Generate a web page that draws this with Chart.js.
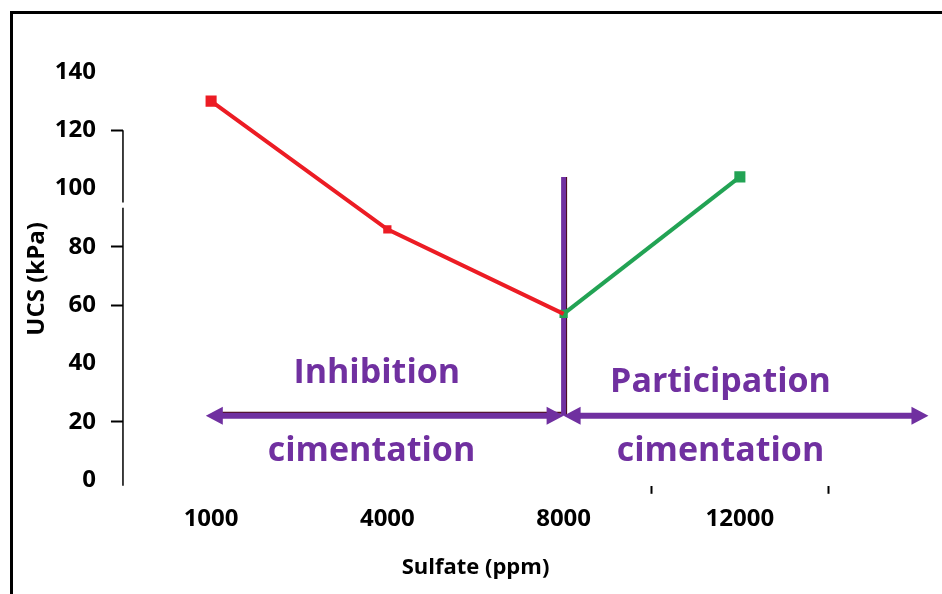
<!DOCTYPE html>
<html>
<head>
<meta charset="utf-8">
<script src="https://cdn.jsdelivr.net/npm/chart.js@4.4.1/dist/chart.umd.min.js"></script>
<style>
    html, body { margin: 0; padding: 0; background: #fff; }
    #frame {
        position: absolute; left: 10px; top: 11px; width: 932px; height: 583px;
        border-top: 3px solid #000; border-left: 3px solid #000;
    }
    #wrap { position: absolute; left: 0; top: 0; width: 929px; height: 580px; }
</style>
</head>
<body>
<div id="frame"><div id="wrap"><canvas id="ucsChart"></canvas></div></div>
<script>
// Data
const sulfateLevels = ["1000", "4000", "8000", "12000"];
const inhibitionUcs = [130, 86, 57, null];
const participationUcs = [null, null, 57, 104];
const ucsTicks = [0, 20, 40, 60, 80, 100, 120, 140];
const markedTicks = [20, 60, 80, 120];
const zoneLabels = ["Inhibition", "cimentation", "Participation", "cimentation"];

const purple = "#7030a0";
const red = "#ec1c24";
const green = "#22a354";
const boldFont = (size) => ({ family: "'Open Sans', sans-serif", size: size, weight: "bold" });

// Zone annotation: split line, double arrows and texts
const zones = {
    id: "zones",
    beforeDatasetsDraw(chart) {
        const { ctx, chartArea, scales: { x, y } } = chart;

        // y axis line (starts at 120, small break near 95)
        ctx.save();
        ctx.strokeStyle = "#000";
        ctx.lineWidth = 1.5;
        ctx.beginPath();
        ctx.moveTo(chartArea.left, y.getPixelForValue(120));
        ctx.lineTo(chartArea.left, y.getPixelForValue(95.2));
        ctx.moveTo(chartArea.left, y.getPixelForValue(93.4));
        ctx.lineTo(chartArea.left, chartArea.bottom);
        ctx.stroke();

        const split = x.getPixelForValue(2);
        const arrowY = y.getPixelForValue(22);
        const leftTip = x.getPixelForValue(-0.03);
        const rightTip = x.getPixelForValue(4.07);

        // dark shadow lines
        ctx.strokeStyle = "#4a0a12";
        ctx.lineWidth = 2;
        ctx.beginPath();
        ctx.moveTo(leftTip + 16, arrowY - 3);
        ctx.lineTo(split, arrowY - 3);
        ctx.moveTo(split + 2.5, y.getPixelForValue(104));
        ctx.lineTo(split + 2.5, arrowY);
        ctx.stroke();

        // vertical split line
        ctx.strokeStyle = purple;
        ctx.lineWidth = 5;
        ctx.beginPath();
        ctx.moveTo(split, y.getPixelForValue(104));
        ctx.lineTo(split, arrowY);
        ctx.stroke();

        drawArrow(ctx, leftTip, split, arrowY);
        drawArrow(ctx, split, rightTip, arrowY);
        ctx.restore();
    },
    afterDatasetsDraw(chart) {
        const { ctx, scales: { x, y } } = chart;
        const spots = [[0.94, 36.5], [0.91, 9.8], [2.89, 33.5], [2.89, 9.8]];
        ctx.save();
        ctx.font = "bold 34px 'Open Sans', sans-serif";
        ctx.fillStyle = purple;
        ctx.textAlign = "center";
        ctx.textBaseline = "middle";
        zoneLabels.forEach((label, i) => {
            ctx.fillText(label, x.getPixelForValue(spots[i][0]), y.getPixelForValue(spots[i][1]));
        });
        ctx.restore();
    },
};

function drawArrow(ctx, x1, x2, yPos) {
    const head = 17;
    const half = 9;
    ctx.strokeStyle = purple;
    ctx.fillStyle = purple;
    ctx.lineWidth = 6;
    ctx.beginPath();
    ctx.moveTo(x1 + head - 2, yPos);
    ctx.lineTo(x2 - head + 2, yPos);
    ctx.stroke();
    ctx.beginPath();
    ctx.moveTo(x1, yPos);
    ctx.lineTo(x1 + head, yPos - half);
    ctx.lineTo(x1 + head, yPos + half);
    ctx.closePath();
    ctx.moveTo(x2, yPos);
    ctx.lineTo(x2 - head, yPos - half);
    ctx.lineTo(x2 - head, yPos + half);
    ctx.closePath();
    ctx.fill();
}

const config = {
    type: "line",
    data: {
        labels: sulfateLevels,
        datasets: [
            {
                data: inhibitionUcs,
                borderColor: red,
                backgroundColor: red,
                borderWidth: 4,
                pointStyle: "rect",
                pointRadius: [5, 3, 0, 0],
            },
            {
                data: participationUcs,
                borderColor: green,
                backgroundColor: green,
                borderWidth: 4,
                pointStyle: "rect",
                pointRadius: [0, 0, 3, 5],
            },
        ],
    },
    options: {
        responsive: true,
        maintainAspectRatio: false,
        animation: false,
        events: [],
        layout: { padding: { left: 10, right: 114, top: 58, bottom: 9 } },
        plugins: { legend: { display: false }, tooltip: { enabled: false } },
        scales: {
            x: {
                offset: true,
                border: { display: false },
                grid: {
                    offset: true,
                    drawOnChartArea: false,
                    tickLength: 8,
                    tickWidth: 2,
                    tickColor: (c) => (c.index === undefined || c.index >= 3 ? "#000" : "rgba(0,0,0,0)"),
                },
                ticks: { padding: 11, color: "#000", font: boldFont(24) },
                title: {
                    display: true,
                    text: "Sulfate (ppm)",
                    color: "#000",
                    font: boldFont(22),
                    padding: { top: 10, bottom: 4 },
                },
            },
            y: {
                min: -2,
                max: 140,
                afterBuildTicks: (scale) => {
                    scale.ticks = ucsTicks.map((v) => ({ value: v }));
                },
                border: { display: false },
                grid: {
                    drawOnChartArea: false,
                    tickLength: 12,
                    tickWidth: 2,
                    tickColor: (c) => (c.tick && markedTicks.includes(c.tick.value) ? "#000" : "rgba(0,0,0,0)"),
                },
                ticks: { padding: 15, color: "#000", font: boldFont(24) },
                title: {
                    display: true,
                    text: "UCS (kPa)",
                    color: "#000",
                    font: boldFont(24),
                    padding: { top: 0, bottom: -12 },
                },
            },
        },
    },
    plugins: [zones],
};

new Chart(document.getElementById("ucsChart").getContext("2d"), config);
</script>
</body>
</html>
